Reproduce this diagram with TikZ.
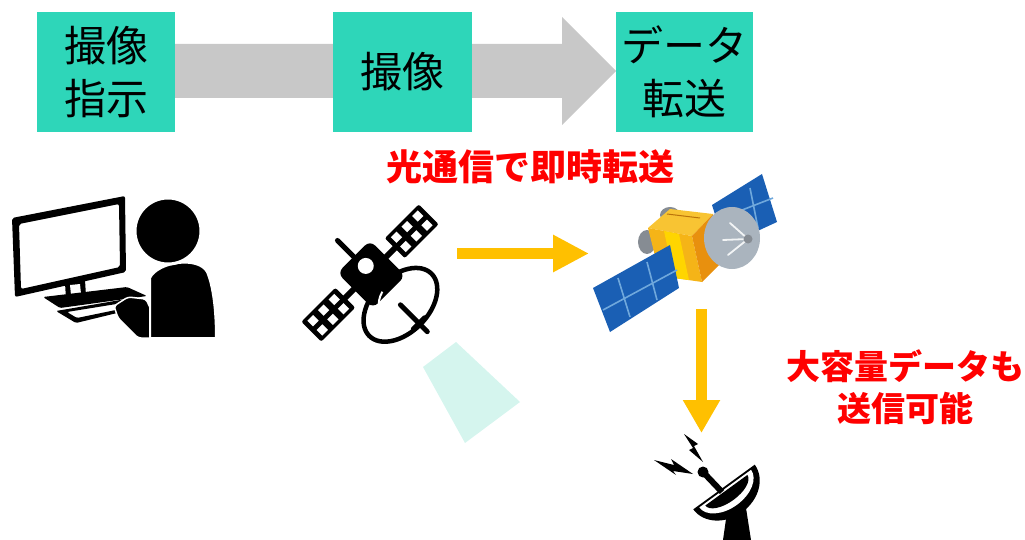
\documentclass[tikz,border=0pt]{standalone}
\usepackage{fontspec}
\newfontfamily\jp{Noto Sans CJK JP}
\usetikzlibrary{arrows.meta}
\definecolor{boxteal}{HTML}{2ED6B9}
\definecolor{bandgray}{HTML}{C8C8C8}
\definecolor{labelred}{HTML}{FF0000}
\definecolor{flowgold}{HTML}{FFC000}
\definecolor{beamteal}{HTML}{D5F5EE}
\definecolor{panelblue}{HTML}{1A5FB4}
\definecolor{panelline}{HTML}{6FA8DC}
\definecolor{cubeorange}{HTML}{F5B417}
\definecolor{cubeyellow}{HTML}{FFD500}
\definecolor{cubetop}{HTML}{F8C433}
\definecolor{cubedark}{HTML}{E8900E}
\definecolor{dishgray}{HTML}{AAB4BE}
\definecolor{partgray}{HTML}{868C93}
\begin{document}
\begin{tikzpicture}[x=1pt,y=-1pt,
  box/.style={fill=boxteal, minimum width=138pt, minimum height=120pt,
    inner sep=0pt, align=center, font=\jp\fontsize{42}{53}\selectfont},
  redlabel/.style={text=labelred, align=center, inner sep=0pt},
  flow/.style={draw=flowgold, line width=11pt, -{Triangle[length=36pt,width=35pt]}},
  panelgrid/.style={draw=panelline, line width=1.6pt}]
\useasboundingbox (0,0) rectangle (1025,540);

% ---------- process band ----------
\fill[bandgray] (175,44) -- (562,44) -- (562,17) -- (616,71) -- (562,125)
  -- (562,98) -- (175,98) -- cycle;
\node[box] (b1) at (106,72) {撮像\\指示};
\node[box, minimum width=139pt] (b2) at (402.5,72) {撮像};
\node[box, minimum width=137pt] (b3) at (684.5,72) {データ\\転送};

% ---------- labels ----------
\node[redlabel, font=\jp\bfseries\fontsize{36}{42}\selectfont] (l1) at (530,167) {光通信で即時転送};
\node[redlabel, font=\jp\bfseries\fontsize{34}{42}\selectfont] (l2) at (905,387) {大容量データも\\送信可能};

% ---------- operator at a computer ----------
\begin{scope}
  % monitor frame
  \fill[black, rounded corners=2pt, even odd rule]
    (12,218) -- (125,196) -- (126,272) -- (15,297) -- cycle
    (19,224) -- (119,204) -- (120,267) -- (21,289) -- cycle;
  % stand neck
  \fill[black] (65,283) -- (85,280) -- (86,296) -- (66,299) -- cycle;
  \fill[white] (70,285) -- (80,284) -- (81,294) -- (71,295) -- cycle;
  % stand base
  \fill[black, rounded corners=1.5pt] (43,297) -- (127,287) -- (147,296) -- (60,308) -- cycle;
  % keyboard
  \fill[black, rounded corners=1.5pt, even odd rule]
    (56,311) -- (138,297) -- (150,305) -- (76,323) -- cycle
    (67,312) -- (135,301) -- (140,305) -- (77,318) -- cycle;
  % hand and arm
  \fill[black, draw=white, line width=1.5pt, rounded corners=3pt]
    (114,306) -- (128,297) -- (146,299) -- (152,312) -- (153,338)
    -- (138,338) -- (118,318) -- cycle;
  % body
  \fill[black, draw=white, line width=2pt]
    (150,338) -- (150,278) .. controls (158,262) and (198,256) .. (207,272)
    .. controls (213,286) and (216,310) .. (216,338) -- cycle;
  % head
  \fill[black, draw=white, line width=3pt] (168,231) circle (33);
\end{scope}

% ---------- imaging satellite (icon) ----------
\fill[beamteal] (423,367) -- (456,342) -- (520,402) -- (465,443) -- cycle;
% local frame: first axis along the panel arms (up-right), second towards the dish
\begin{scope}[shift={(370,273)}, rotate=45]
  \fill[black] (-37,-3) rectangle (37,3);
  \draw[black, line width=5pt, line cap=round] (0,-20) -- (0,-46);
  \foreach \s in {1,-1} {
    \fill[black, rounded corners=2pt] (35*\s,-14) rectangle (83*\s,14);
    \foreach \a in {40,55,70} {
      \foreach \b in {-10.5,2.5} {
        \fill[white] (\s*\a,\b) rectangle (\s*\a+\s*8,\b+8);
      }
    }
  }
  \fill[black, rounded corners=7pt] (-23,-23) rectangle (23,27);
  \fill[white] (2,-8) circle (8);
  % dish
  \draw[white, line width=2pt] (-18,31) arc[start angle=200, end angle=245, x radius=26, y radius=16];
  \draw[black, line width=4.5pt] (-1,44) ellipse [x radius=44, y radius=28];
  \draw[black, line width=5pt, line cap=round] (-1,44) -- (-1,82);
  \draw[black, line width=4.5pt, line cap=round] (-9,70) -- (7,70);
\end{scope}

% ---------- relay satellite ----------
\begin{scope}
  % far solar panel
  \fill[panelblue] (712,205) -- (762,174) -- (777,222) -- (725,246) -- cycle;
  \draw[panelgrid] (737,212) -- (773,198);
  \draw[panelgrid] (750,188) -- (758,228);
  % thrusters
  \fill[partgray] (670,215) ellipse [x radius=10, y radius=8];
  \fill[partgray] (647,242) ellipse [x radius=9, y radius=12];
  \fill[partgray] (676,268) ellipse [x radius=7, y radius=6];
  % bus
  \fill[cubetop] (648,228) -- (670,209) -- (713,214) -- (692,236) -- cycle;
  \fill[cubeorange] (648,228) -- (692,236) -- (702,282) -- (660,276) -- cycle;
  \fill[cubeyellow] (664,231) -- (679,234) -- (689,280) -- (674,278) -- cycle;
  \fill[cubedark] (692,236) -- (713,214) -- (722,262) -- (702,282) -- cycle;
  \draw[cubedark!80!black, line width=1pt] (667,214) -- (700,218);
  % near solar panel
  \fill[panelblue] (593,288) -- (670,245) -- (679,288) -- (610,332) -- cycle;
  \draw[panelgrid] (603,310) -- (677,270);
  \draw[panelgrid] (618,278) -- (630,317);
  \draw[panelgrid] (647,262) -- (657,300);
  % dish
  \fill[dishgray] (732,238) ellipse [x radius=28, y radius=31];
  \draw[white!85!dishgray, line width=1.8pt, line cap=round]
    (723,240) -- (748,239) (730,223) -- (748,239) (728,255) -- (748,239);
  \fill[partgray] (748,239) circle (4.5);
\end{scope}

% ---------- ground station ----------
\begin{scope}
  % signal bolts
  \fill[black] (684,434) -- (698,444) -- (694,446) -- (703,462) -- (689,450) -- (693,448) -- cycle;
  \fill[black] (654,460) -- (674,465) -- (671,459) -- (693,474) -- (673,471) -- (676,475) -- cycle;
  % pedestal
  \fill[black] (727,512) -- (746,508) -- (751,540) -- (723,540) -- cycle;
  % reflector, opening towards the upper left
  \begin{scope}[shift={(724,487)}, rotate=36]
    \fill[black] (-38,0) arc[start angle=180, end angle=0, x radius=38, y radius=31] -- cycle;
    \fill[white] (-32,2) arc[start angle=180, end angle=0, x radius=32, y radius=20] -- cycle;
    \fill[black] (-26,4) arc[start angle=180, end angle=0, x radius=26, y radius=12] -- cycle;
  \end{scope}
  % feed arm
  \draw[black, line width=6pt] (703,472) -- (722,492);
  \fill[black] (703,472) circle (5.5);
\end{scope}

% ---------- transfer arrows ----------
\coordinate (s1) at (457,253.5);
\coordinate (s2) at (589,253.5);
\coordinate (d1) at (701.5,309);
\coordinate (d2) at (701.5,433);
\draw[flow] (s1) -- (s2);
\draw[flow, -{Triangle[length=33pt,width=35pt]}] (d1) -- (d2);
\end{tikzpicture}
\end{document}
